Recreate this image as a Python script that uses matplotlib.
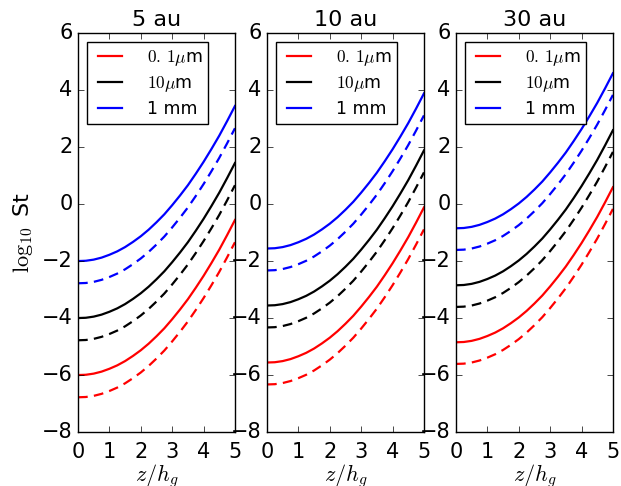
import matplotlib
matplotlib.use('Agg')
import matplotlib.pyplot as plt

# z / h_g sample positions
z = [0.0, 0.25, 0.5, 0.75, 1.0, 1.25, 1.5, 1.75, 2.0, 2.25, 2.5,
     2.75, 3.0, 3.25, 3.5, 3.75, 4.0, 4.25, 4.5, 4.75, 5.0]

titles = ['5 au', '10 au', '30 au']
sizes = ['$0.\\,1\\mu$m', '$10\\mu$m', '1 mm']
colors = ['red', 'black', 'blue']

# log10 St, solid and dashed for each grain size
st_5au_small = [-6.00, -5.99, -5.95, -5.88, -5.78, -5.66, -5.51, -5.33, -5.13, -4.90, -4.64,
                -4.36, -4.04, -3.70, -3.34, -2.94, -2.52, -2.07, -1.60, -1.09, -0.56]
st_5au_small_d = [-6.78, -6.77, -6.73, -6.66, -6.56, -6.44, -6.29, -6.11, -5.91, -5.68, -5.42,
                  -5.14, -4.82, -4.48, -4.12, -3.72, -3.30, -2.85, -2.38, -1.87, -1.34]
st_5au_mid = [-4.00, -3.99, -3.95, -3.88, -3.78, -3.66, -3.51, -3.33, -3.13, -2.90, -2.64,
              -2.36, -2.04, -1.70, -1.34, -0.94, -0.52, -0.07, 0.40, 0.91, 1.44]
st_5au_mid_d = [-4.78, -4.77, -4.73, -4.66, -4.56, -4.44, -4.29, -4.11, -3.91, -3.68, -3.42,
                -3.14, -2.82, -2.48, -2.12, -1.72, -1.30, -0.85, -0.38, 0.13, 0.66]
st_5au_big = [-2.00, -1.99, -1.95, -1.88, -1.78, -1.66, -1.51, -1.33, -1.13, -0.90, -0.64,
              -0.36, -0.04, 0.30, 0.66, 1.06, 1.48, 1.93, 2.40, 2.91, 3.44]
st_5au_big_d = [-2.78, -2.77, -2.73, -2.66, -2.56, -2.44, -2.29, -2.11, -1.91, -1.68, -1.42,
                -1.14, -0.82, -0.48, -0.12, 0.28, 0.70, 1.15, 1.62, 2.13, 2.66]

st_10au_small = [-5.56, -5.55, -5.51, -5.44, -5.34, -5.22, -5.07, -4.89, -4.69, -4.46, -4.20,
                 -3.92, -3.60, -3.26, -2.90, -2.50, -2.08, -1.63, -1.16, -0.65, -0.12]
st_10au_small_d = [-6.33, -6.32, -6.28, -6.21, -6.11, -5.99, -5.84, -5.66, -5.46, -5.23, -4.97,
                   -4.69, -4.37, -4.03, -3.67, -3.27, -2.85, -2.40, -1.93, -1.42, -0.89]
st_10au_mid = [-3.56, -3.55, -3.51, -3.44, -3.34, -3.22, -3.07, -2.89, -2.69, -2.46, -2.20,
               -1.92, -1.60, -1.26, -0.90, -0.50, -0.08, 0.37, 0.84, 1.35, 1.88]
st_10au_mid_d = [-4.33, -4.32, -4.28, -4.21, -4.11, -3.99, -3.84, -3.66, -3.46, -3.23, -2.97,
                 -2.69, -2.37, -2.03, -1.67, -1.27, -0.85, -0.40, 0.07, 0.58, 1.11]
st_10au_big = [-1.56, -1.55, -1.51, -1.44, -1.34, -1.22, -1.07, -0.89, -0.69, -0.46, -0.20,
               0.08, 0.40, 0.74, 1.10, 1.50, 1.92, 2.37, 2.84, 3.35, 3.88]
st_10au_big_d = [-2.33, -2.32, -2.28, -2.21, -2.11, -1.99, -1.84, -1.66, -1.46, -1.23, -0.97,
                 -0.69, -0.37, -0.03, 0.33, 0.73, 1.15, 1.60, 2.07, 2.58, 3.11]

st_30au_small = [-4.85, -4.84, -4.80, -4.73, -4.63, -4.51, -4.36, -4.18, -3.98, -3.75, -3.49,
                 -3.21, -2.89, -2.55, -2.19, -1.79, -1.37, -0.92, -0.45, 0.06, 0.59]
st_30au_small_d = [-5.61, -5.60, -5.56, -5.49, -5.39, -5.27, -5.12, -4.94, -4.74, -4.51, -4.25,
                   -3.97, -3.65, -3.31, -2.95, -2.55, -2.13, -1.68, -1.21, -0.70, -0.17]
st_30au_mid = [-2.85, -2.84, -2.80, -2.73, -2.63, -2.51, -2.36, -2.18, -1.98, -1.75, -1.49,
               -1.21, -0.89, -0.55, -0.19, 0.21, 0.63, 1.08, 1.55, 2.06, 2.59]
st_30au_mid_d = [-3.61, -3.60, -3.56, -3.49, -3.39, -3.27, -3.12, -2.94, -2.74, -2.51, -2.25,
                 -1.97, -1.65, -1.31, -0.95, -0.55, -0.13, 0.32, 0.79, 1.30, 1.83]
st_30au_big = [-0.85, -0.84, -0.80, -0.73, -0.63, -0.51, -0.36, -0.18, 0.02, 0.25, 0.51,
               0.79, 1.11, 1.45, 1.81, 2.21, 2.63, 3.08, 3.55, 4.06, 4.59]
st_30au_big_d = [-1.61, -1.60, -1.56, -1.49, -1.39, -1.27, -1.12, -0.94, -0.74, -0.51, -0.25,
                 0.03, 0.35, 0.69, 1.05, 1.45, 1.87, 2.32, 2.79, 3.30, 3.83]

panels = [
    [(st_5au_small, st_5au_small_d), (st_5au_mid, st_5au_mid_d), (st_5au_big, st_5au_big_d)],
    [(st_10au_small, st_10au_small_d), (st_10au_mid, st_10au_mid_d), (st_10au_big, st_10au_big_d)],
    [(st_30au_small, st_30au_small_d), (st_30au_mid, st_30au_mid_d), (st_30au_big, st_30au_big_d)],
]

plt.style.use('classic')
plt.rcParams['figure.facecolor'] = 'white'
plt.rcParams['savefig.facecolor'] = 'white'
plt.rcParams['mathtext.fontset'] = 'cm'

fig, axes = plt.subplots(1, 3, figsize=(6.21, 4.86), dpi=100)
fig.subplots_adjust(left=0.1256, right=0.987, bottom=0.111, top=0.932, wspace=0.204)

for ax, title, curves in zip(axes, titles, panels):
    for (solid, dashed), label, c in zip(curves, sizes, colors):
        ax.plot(z, solid, color=c, lw=1.6, label=label)
        ax.plot(z, dashed, color=c, lw=1.6, ls='--', dashes=(7, 4.5))
    ax.set_xlim(0, 5)
    ax.set_ylim(-8, 6)
    ax.set_xticks([0, 1, 2, 3, 4, 5])
    ax.set_yticks([-8, -6, -4, -2, 0, 2, 4, 6])
    ax.tick_params(labelsize=15)
    ax.tick_params(axis='x', pad=7)
    ax.set_title(title, fontsize=16)
    ax.set_xlabel('$z/h_g$', fontsize=16, labelpad=0)
    ax.legend(loc='upper left', fontsize=12.5, handlelength=2.0, handletextpad=1.1,
              borderpad=0.35, labelspacing=0.35)

axes[0].set_ylabel('$\\log_{10}$ St', fontsize=16)

fig.savefig('out.png', dpi=100)
